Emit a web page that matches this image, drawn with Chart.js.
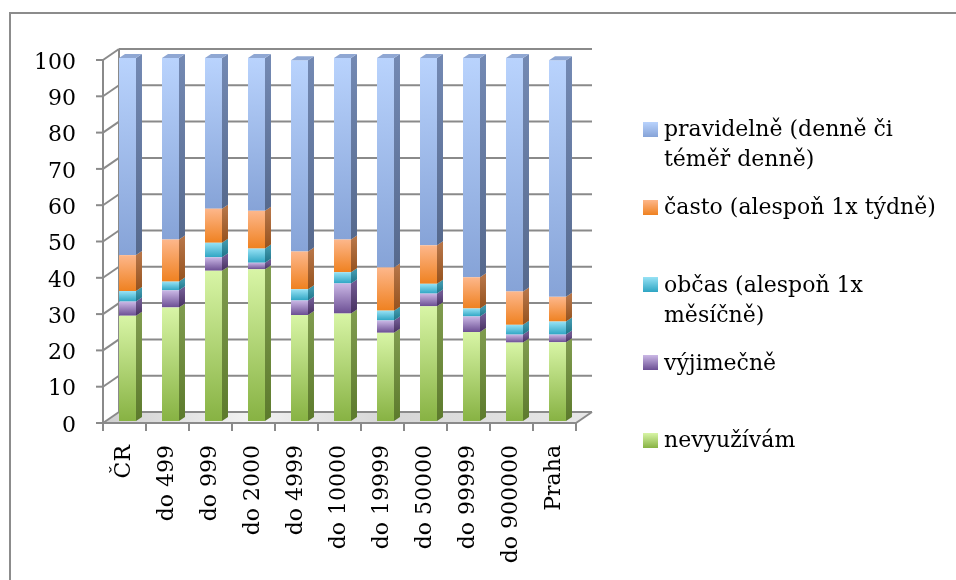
<!DOCTYPE html>
<html>
<head>
<meta charset="utf-8">
<script src="https://cdn.jsdelivr.net/npm/chart.js@4/dist/chart.umd.min.js"></script>
<style>
  html, body { margin: 0; padding: 0; background: #fff; overflow: hidden; }
  #wrap { position: relative; width: 956px; height: 580px; overflow: hidden; background: #fff; }
  #frame { position: absolute; left: 9px; top: 12px; width: 1000px; height: 700px; border: 2px solid #8c8c8c; box-sizing: border-box; }
  #c { position: absolute; left: 0; top: 0; }
  .lg { position: absolute; left: 643px; width: 300px; font-family: 'DejaVu Serif', serif; font-size: 22px; line-height: 30px; color: #000; }
  .lg .sw { position: absolute; left: 0; width: 15px; height: 15px; }
  .lg .tx { position: absolute; left: 21px; width: 285px; }
</style>
</head>
<body>
<div id="wrap">
  <div id="frame"></div>
  <canvas id="c" width="956" height="580"></canvas>
  <div id="legend"></div>
</div>
<script>
// ---- data ----
const categories = ['ČR', 'do 499', 'do 999', 'do 2000', 'do 4999', 'do 10000', 'do 19999', 'do 50000', 'do 99999', 'do 900000', 'Praha'];
const seriesNames = ['nevyužívám', 'výjimečně', 'občas (alespoň 1x měsíčně)', 'často (alespoň 1x týdně)', 'pravidelně (denně či téměř denně)'];
const nevyuzivam = [29.0, 31.3, 41.4, 41.8, 29.2, 29.6, 24.3, 31.6, 24.5, 21.6, 21.7];
const vyjimecne  = [3.9, 4.7, 3.7, 1.8, 4.0, 8.3, 3.4, 3.5, 4.3, 2.2, 2.1];
const obcas      = [2.9, 2.4, 4.0, 3.9, 3.1, 3.1, 2.7, 2.7, 2.2, 2.7, 3.6];
const casto      = [9.9, 11.6, 9.4, 10.4, 10.4, 9.0, 11.9, 10.6, 8.6, 9.2, 6.8];
const pravidelne = [54.3, 50.0, 41.5, 42.1, 52.7, 50.0, 57.7, 51.6, 60.4, 64.3, 65.2];
const seriesValues = [nevyuzivam, vyjimecne, obcas, casto, pravidelne];

// ---- styles ----
const palette = [
  { top: '#d8f5a6', bot: '#87b243', sideTop: '#7f9b4e', sideBot: '#5c7a2c', cap: '#a9c878' },
  { top: '#cbb8e6', bot: '#6b4e93', sideTop: '#6f5890', sideBot: '#46305f', cap: '#9c86bb' },
  { top: '#97e2f5', bot: '#2ea5c3', sideTop: '#3e96ab', sideBot: '#1f7388', cap: '#6cc3da' },
  { top: '#fdb78b', bot: '#ef8120', sideTop: '#b67446', sideBot: '#95521e', cap: '#e69a62' },
  { top: '#b9d3fd', bot: '#86a3d7', sideTop: '#7389b3', sideBot: '#56698d', cap: '#8fa7d3' }
];
const FX = -3, FY = 2, BX = 13, BY = -9, SX = 6, SY = 4;

function segFill(di) {
  return function (ctx) {
    const chart = ctx.chart;
    const ys = chart.scales && chart.scales.y;
    if (ctx.type !== 'data' || !ys || !chart.chartArea) return palette[di].bot;
    const i = ctx.dataIndex;
    let start = 0;
    for (let k = 0; k < di; k++) start += seriesValues[k][i];
    const end = start + seriesValues[di][i];
    const y1 = ys.getPixelForValue(end), y2 = ys.getPixelForValue(start);
    const g = chart.ctx.createLinearGradient(0, y1, 0, y2 + 0.01);
    g.addColorStop(0, palette[di].top);
    g.addColorStop(1, palette[di].bot);
    return g;
  };
}

const deco = {
  id: 'deco',
  beforeDatasetsDraw(chart) {
    const { ctx, chartArea: { left: L, right: R }, scales: { y } } = chart;
    const y0 = y.getPixelForValue(0);
    const yTop = y.getPixelForValue(100);
    ctx.save();
    // floor
    ctx.beginPath();
    ctx.moveTo(L + FX, y0 + FY); ctx.lineTo(R + FX, y0 + FY);
    ctx.lineTo(R + BX, y0 + BY); ctx.lineTo(L + BX, y0 + BY); ctx.closePath();
    const fg = ctx.createLinearGradient(L, y0 + BY, R, y0 + FY);
    fg.addColorStop(0, '#cfcfcf'); fg.addColorStop(0.3, '#f2f2f2');
    fg.addColorStop(0.6, '#d6d6d6'); fg.addColorStop(1, '#e6e6e6');
    ctx.fillStyle = fg; ctx.fill();
    ctx.strokeStyle = '#8a8a8a'; ctx.lineWidth = 2;
    const line = (a, b, c, d) => { ctx.beginPath(); ctx.moveTo(a, b); ctx.lineTo(c, d); ctx.stroke(); };
    y.ticks.forEach(t => {
      const py = y.getPixelForValue(t.value);
      line(L + BX, py + BY, R + BX, py + BY);
      line(L + FX, py + FY, L + BX, py + BY);
      line(L + FX - 7, py + FY, L + FX, py + FY);
    });
    line(L + BX, y0 + BY, L + BX, yTop + BY);
    line(L + FX, y0 + FY, L + FX, yTop + FY);
    line(L + FX, y0 + FY, R + FX, y0 + FY);
    line(R + FX, y0 + FY, R + BX, y0 + BY);
    const n = chart.data.labels.length;
    for (let i = 0; i <= n; i++) {
      const bx = L + i * (R - L) / n + FX;
      line(bx, y0 + FY, bx, y0 + FY + 8);
    }
    ctx.restore();
  },
  afterDatasetsDraw(chart) {
    const ctx = chart.ctx;
    const last = chart.data.datasets.length - 1;
    ctx.save();
    chart.data.datasets.forEach((ds, di) => {
      const meta = chart.getDatasetMeta(di);
      meta.data.forEach(el => {
        const p = el.getProps(['x', 'y', 'base', 'width'], true);
        const r = p.x + p.width / 2, l = p.x - p.width / 2;
        const top = Math.min(p.y, p.base), bot = Math.max(p.y, p.base);
        const g = ctx.createLinearGradient(0, top, 0, bot);
        g.addColorStop(0, palette[di].sideTop); g.addColorStop(1, palette[di].sideBot);
        ctx.fillStyle = g;
        ctx.beginPath();
        ctx.moveTo(r, top); ctx.lineTo(r + SX, top - SY); ctx.lineTo(r + SX, bot - SY); ctx.lineTo(r, bot);
        ctx.closePath(); ctx.fill();
        if (di === last) {
          ctx.fillStyle = palette[di].cap;
          ctx.beginPath();
          ctx.moveTo(l, top); ctx.lineTo(l + SX, top - SY); ctx.lineTo(r + SX, top - SY); ctx.lineTo(r, top);
          ctx.closePath(); ctx.fill();
        }
      });
    });
    ctx.restore();
  }
};

const tickFont = { family: 'DejaVu Serif', size: 22 };

new Chart(document.getElementById('c'), {
  type: 'bar',
  data: {
    labels: categories,
    datasets: seriesValues.map((vals, di) => ({
      label: seriesNames[di],
      data: vals,
      backgroundColor: segFill(di),
      borderWidth: 0,
      categoryPercentage: 1,
      barPercentage: 0.395
    }))
  },
  options: {
    responsive: false,
    animation: false,
    layout: { padding: { left: 0, right: 377, top: 58, bottom: 0 } },
    plugins: { legend: { display: false }, tooltip: { enabled: false } },
    scales: {
      x: {
        stacked: true,
        grid: { display: false, drawTicks: false },
        border: { display: false },
        ticks: { autoSkip: false, minRotation: 90, maxRotation: 90, padding: 24, labelOffset: -3, font: tickFont, color: '#000' },
        afterFit(s) { s.height = 159; }
      },
      y: {
        stacked: true,
        min: 0, max: 100,
        grid: { display: false, drawTicks: false },
        border: { display: false },
        ticks: { stepSize: 10, padding: 30, labelOffset: 5, font: tickFont, color: '#000' },
        afterFit(s) { s.width = 106; }
      }
    }
  },
  plugins: [deco]
});

// ---- HTML legend (reverse order, top = last series) ----
const legend = document.getElementById('legend');
const order = [4, 3, 2, 1, 0];
order.forEach((di, k) => {
  const baseline = 137 + k * 77.75;
  const item = document.createElement('div');
  item.className = 'lg';
  item.style.top = (baseline - 22.6) + 'px';
  const sw = document.createElement('div');
  sw.className = 'sw';
  sw.style.top = (22.6 - 15) + 'px';
  sw.style.background = 'linear-gradient(' + palette[di].top + ',' + palette[di].bot + ')';
  const tx = document.createElement('div');
  tx.className = 'tx';
  tx.textContent = seriesNames[di];
  item.appendChild(sw);
  item.appendChild(tx);
  legend.appendChild(item);
});
</script>
</body>
</html>
